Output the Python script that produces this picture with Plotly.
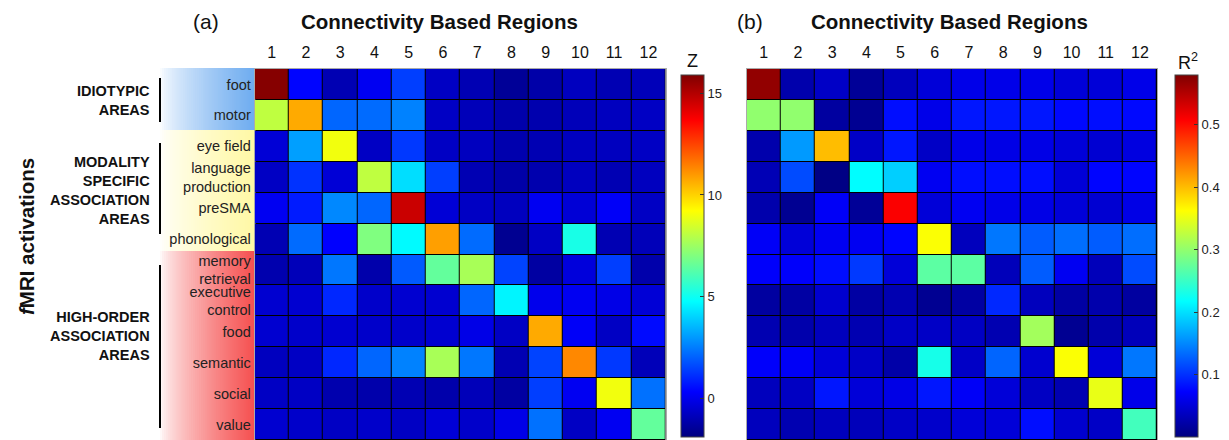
import plotly.graph_objects as go

W, H = 1229, 440

columns = [str(i) for i in range(1, 13)]
rows = ["foot", "motor", "eye field", "language<br>production", "preSMA", "phonological",
        "memory<br>retrieval", "executive<br>control", "food", "semantic", "social", "value"]

z_a = [
    [15.8, 0.4, -1.0, 0.1, 1.4, -0.7, -1.0, -1.5, -1.2, -0.8, -1.0, -0.9],
    [8.1, 10.7, 2.1, 2.2, 2.6, -0.7, -0.9, -1.15, -1.1, -0.9, -0.8, -0.7],
    [-0.4, 3.1, 9.0, -0.7, 1.3, -0.7, -0.8, -1.1, -1.0, -0.8, -0.8, -0.7],
    [-0.7, 1.2, -0.4, 8.1, 4.2, 1.4, -1.0, -1.2, -1.1, -0.8, -1.0, -0.8],
    [0.1, 0.8, 2.7, 2.1, 14.6, -0.4, -0.7, -0.8, 0.1, -0.4, 0.2, -0.7],
    [-1.0, 2.2, 0.3, 7.0, 4.7, 10.9, 2.2, -1.6, -0.7, 5.2, -1.0, -0.9],
    [-1.1, -0.9, 2.4, -1.15, 1.9, 6.5, 7.7, 1.5, -1.3, -0.3, 1.4, -1.15],
    [-0.5, -0.5, 1.0, -0.6, -0.5, -0.5, 2.1, 4.6, 0.0, 0.1, -0.1, -0.4],
    [-0.5, -0.6, -0.5, -0.6, -0.6, -0.5, -0.1, -0.7, 10.7, 0.2, -0.7, 0.5],
    [-0.8, -0.7, 1.0, 2.1, 2.6, 7.7, 2.4, -1.0, 1.5, 11.3, 1.3, -0.9],
    [-0.7, -0.7, -1.1, -1.15, -1.0, -1.15, -0.9, -1.3, 1.4, 0.1, 9.0, 2.3],
    [-0.5, -0.6, -0.7, -0.6, -0.7, -0.4, -0.6, -0.1, 2.3, -0.7, 0.1, 6.5],
]

r2_b = [
    [0.57, 0.025, 0.04, 0.013, 0.035, 0.05, 0.06, 0.06, 0.06, 0.05, 0.05, 0.06],
    [0.30, 0.30, 0.018, 0.01, 0.08, 0.06, 0.085, 0.085, 0.085, 0.077, 0.08, 0.077],
    [0.025, 0.16, 0.40, 0.04, 0.085, 0.04, 0.06, 0.058, 0.058, 0.05, 0.047, 0.055],
    [0.03, 0.115, 0.003, 0.217, 0.19, 0.065, 0.08, 0.08, 0.08, 0.05, 0.075, 0.075],
    [0.025, 0.01, 0.068, 0.013, 0.51, 0.05, 0.065, 0.06, 0.058, 0.05, 0.047, 0.058],
    [0.068, 0.05, 0.065, 0.065, 0.075, 0.36, 0.035, 0.14, 0.125, 0.135, 0.125, 0.135],
    [0.07, 0.07, 0.08, 0.105, 0.05, 0.27, 0.27, 0.033, 0.125, 0.065, 0.033, 0.115],
    [0.018, 0.02, 0.045, 0.02, 0.028, 0.01, 0.02, 0.095, 0.035, 0.02, 0.025, 0.018],
    [0.028, 0.025, 0.035, 0.028, 0.04, 0.04, 0.038, 0.028, 0.31, 0.01, 0.025, 0.033],
    [0.07, 0.068, 0.05, 0.04, 0.023, 0.23, 0.04, 0.13, 0.045, 0.36, 0.05, 0.14],
    [0.035, 0.038, 0.085, 0.05, 0.058, 0.085, 0.068, 0.05, 0.038, 0.028, 0.35, 0.06],
    [0.035, 0.028, 0.035, 0.033, 0.04, 0.043, 0.05, 0.05, 0.08, 0.045, 0.04, 0.255],
]

groups = [
    ("IDIOTYPIC<br>AREAS", 100, 78, 122),
    ("MODALITY<br>SPECIFIC<br>ASSOCIATION<br>AREAS", 190, 143, 234),
    ("HIGH-ORDER<br>ASSOCIATION<br>AREAS", 336, 265, 428),
]
bands = [
    ((110, 172, 240), 68, 130),
    ((255, 248, 165), 130, 251),
    ((245, 80, 80), 251, 440),
]

jet = [[0, "rgb(0,0,128)"], [0.125, "rgb(0,0,255)"], [0.375, "rgb(0,255,255)"],
       [0.625, "rgb(255,255,0)"], [0.875, "rgb(255,0,0)"], [1, "rgb(128,0,0)"]]

FONT = "Liberation Sans, Arial, Helvetica, sans-serif"


def px(x):
    return x / W


def py(y):
    return min(1.0, max(0.0, 1 - y / H))


xs = list(range(1, 13))
ys = list(range(1, 13))

fig = go.Figure()
fig.add_trace(go.Heatmap(
    z=z_a, x=xs, y=ys, colorscale=jet, zmin=-1.9, zmax=15.9, xgap=1, ygap=1,
    xaxis="x", yaxis="y",
    colorbar=dict(x=px(681), xanchor="left", xpad=0, ypad=0, thickness=23, thicknessmode="pixels",
                  len=(437 - 75) / H, lenmode="fraction", y=py(437), yanchor="bottom",
                  tickvals=[0, 5, 10, 15], ticks="inside", ticklen=4, tickcolor="#333",
                  outlinewidth=1, outlinecolor="#444",
                  tickfont=dict(size=13, family=FONT, color="#222")),
))
fig.add_trace(go.Heatmap(
    z=r2_b, x=xs, y=ys, colorscale=jet, zmin=0, zmax=0.58, xgap=1, ygap=1,
    xaxis="x2", yaxis="y2",
    colorbar=dict(x=px(1175), xanchor="left", xpad=0, ypad=0, thickness=23, thicknessmode="pixels",
                  len=(437 - 75) / H, lenmode="fraction", y=py(437), yanchor="bottom",
                  tickvals=[0, 0.1, 0.2, 0.3, 0.4, 0.5], ticks="inside", ticklen=4, tickcolor="#333",
                  outlinewidth=1, outlinecolor="#444",
                  tickfont=dict(size=13, family=FONT, color="#222")),
))

ydom = [0.0, py(69)]
xcommon = dict(side="top", tickvals=xs, ticktext=columns, range=[0.5, 12.5], showgrid=False,
               zeroline=False, showline=True, linecolor="#aaa", mirror=True, ticks="",
               ticklabelstandoff=4,
               tickfont=dict(size=16, family=FONT, color="#111"))
ycommon = dict(range=[12.5, 0.5], showgrid=False, zeroline=False, showline=True, linecolor="#aaa",
               mirror=True, ticks="")

shapes = []
for (cr, cg, cb), y0, y1 in bands:
    n = 47
    x0 = 160.0
    step = (254.7 - x0) / n
    for i in range(n):
        f = ((i + 0.5) / n) ** 0.7
        r = round(255 + (cr - 255) * f)
        g = round(255 + (cg - 255) * f)
        b = round(255 + (cb - 255) * f)
        shapes.append(dict(type="rect", xref="paper", yref="paper",
                           x0=px(x0 + i * step), x1=px(x0 + (i + 1) * step + 0.6),
                           y0=py(y1), y1=py(y0), line=dict(width=0),
                           fillcolor=f"rgb({r},{g},{b})", layer="below"))
for _, _, y0, y1 in groups:
    shapes.append(dict(type="line", xref="paper", yref="paper", x0=px(160), x1=px(160),
                       y0=py(y0), y1=py(y1), line=dict(color="black", width=2)))


def ann(text, x, y, size, xanchor="center", **kw):
    return dict(text=text, xref="paper", yref="paper", x=px(x), y=py(y), xanchor=xanchor,
                yanchor="middle", showarrow=False, font=dict(size=size, family=FONT, color="#111"), **kw)


annotations = []
for text, yc, _, _ in groups:
    annotations.append(ann(f"<b>{text}</b>", 152, yc, 14.5, xanchor="right", align="right"))
annotations += [
    ann("<b><i>f</i>MRI activations</b>", 26, 237, 20.5, textangle=-90),
    ann("(a)", 206, 21, 21),
    ann("<b>Connectivity Based Regions</b>", 439.5, 21, 20.5),
    ann("(b)", 750, 21, 21),
    ann("<b>Connectivity Based Regions</b>", 949, 21, 20.5),
    ann("Z", 692, 61, 18),
    ann("R<sup>2</sup>", 1188, 61, 18),
]

fig.update_layout(
    width=W, height=H, margin=dict(l=0, r=0, t=0, b=0),
    paper_bgcolor="white", plot_bgcolor="black",
    font=dict(family=FONT),
    xaxis=dict(domain=[px(254.7), px(665.5)], anchor="y", **xcommon),
    yaxis=dict(domain=ydom, anchor="x", tickvals=ys, ticktext=rows,
               tickfont=dict(size=14.5, family=FONT, color="#222"), **ycommon),
    xaxis2=dict(domain=[px(746.7), px(1157)], anchor="y2", **xcommon),
    yaxis2=dict(domain=ydom, anchor="x2", showticklabels=False, **ycommon),
    shapes=shapes, annotations=annotations, showlegend=False,
)

fig.write_html("out.html", config={"displayModeBar": False},
               post_script="document.body.style.margin='0';document.body.style.overflow='hidden';")
